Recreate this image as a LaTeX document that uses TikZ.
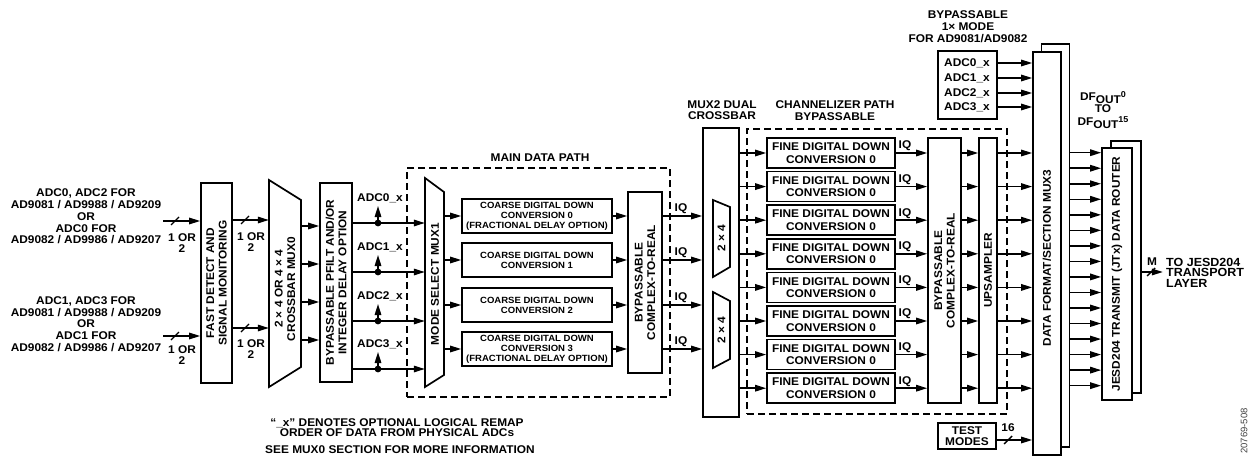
\documentclass[tikz,border=0pt]{standalone}
\usepackage{fontspec}
\setmainfont{Liberation Sans}[FakeStretch=1.06]
\newfontfamily\idfont{Liberation Sans}
\usetikzlibrary{arrows.meta,calc}
\newcommand\fA{\fontsize{11.2}{11.8}\selectfont\bfseries}
\newcommand\fB{\fontsize{9}{10}\selectfont\bfseries}
\newcommand\dfo[1]{DF\raisebox{-3pt}{OUT}\raisebox{2.5pt}{\fontsize{8.5}{8.5}\selectfont #1}}
\tikzset{
  txt/.style={font=\fA, align=center, inner sep=0pt},
  rtxt/.style={txt, rotate=90},
  box/.style={draw, line width=1.7pt, fill=white, inner sep=0pt},
  ghost/.style={inner sep=0pt},
  arr/.style={line width=1.5pt, -{Triangle[length=11pt,width=6.5pt]}},
  ln/.style={line width=1.4pt},
  dbox/.style={draw, line width=1.3pt, dash pattern=on 7pt off 4pt, inner sep=0pt},
  trap/.style={draw, line width=1.7pt, fill=white, line join=miter},
}
\begin{document}
\begin{tikzpicture}[x=1pt,y=-1pt]
\useasboundingbox (0,0) rectangle (1253,460);

% ---------- dashed regions ----------
\node[dbox, minimum width=263, minimum height=229] (mainp) at (538.5,282.5) {};
\node[txt] (mainT) at (540,158) {MAIN DATA PATH};
\node[dbox, minimum width=260, minimum height=285] (chan) at (877,271.5) {};
\node[txt, font=\fontsize{11.2}{11.5}\selectfont\bfseries] (chanT) at (835,110.5) {CHANNELIZER PATH\\BYPASSABLE};

% ---------- left inputs ----------
\node[txt] (inA) at (86,216.5) {ADC0, ADC2 FOR\\AD9081 / AD9988 / AD9209\\OR\\ADC0 FOR\\AD9082 / AD9986 / AD9207};
\node[txt] (inB) at (86,324) {ADC1, ADC3 FOR\\AD9081 / AD9988 / AD9209\\OR\\ADC1 FOR\\AD9082 / AD9986 / AD9207};

\node[box, minimum width=31, minimum height=200] (fdet) at (216.5,283) {};
\node[rtxt, font=\fontsize{11.2}{12.5}\selectfont\bfseries] (fdetT) at (fdet) {FAST DETECT AND\\SIGNAL MONITORING};

\coordinate (sA) at (163,221);
\coordinate (sB) at (163,336);
\draw[arr] (sA) -- (fdet.west |- sA);
\draw[arr] (sB) -- (fdet.west |- sB);
\draw[ln] (175,221) +(-4,4) -- +(4,-4);
\draw[ln] (175,336) +(-4,4) -- +(4,-4);
\node[txt, font=\fontsize{11.2}{11}\selectfont\bfseries] (nA) at (182,243.5) {1 OR\\2};
\node[txt, font=\fontsize{11.2}{11}\selectfont\bfseries] (nB) at (182,355) {1 OR\\2};

% ---------- MUX0 ----------
\draw[trap] (269,180) -- (301,200) -- (301,367) -- (269,387) -- cycle;
\node[ghost, minimum width=32, minimum height=207] (mux0) at (285,283.5) {};
\node[rtxt, font=\fontsize{11.2}{12.5}\selectfont\bfseries] (mux0T) at (285,289) {2 × 4 OR 4 × 4\\CROSSBAR MUX0};
\draw[arr] (fdet.east |- 0,220) -- (mux0.west |- 0,220);
\draw[arr] (fdet.east |- 0,328) -- (mux0.west |- 0,328);
\draw[ln] (245,220) +(-4,4) -- +(4,-4);
\draw[ln] (245,328) +(-4,4) -- +(4,-4);
\node[txt, font=\fontsize{11.2}{11}\selectfont\bfseries] (nC) at (251,242.5) {1 OR\\2};
\node[txt, font=\fontsize{11.2}{11}\selectfont\bfseries] (nD) at (251,349) {1 OR\\2};

% ---------- PFILT ----------
\node[box, minimum width=32, minimum height=199] (pf) at (336,282.5) {};
\node[rtxt, font=\fontsize{11.2}{12.5}\selectfont\bfseries] (pfT) at (pf) {BYPASSABLE PFILT AND/OR\\INTEGER DELAY OPTION};
\foreach \y in {226,264,302,340} {
  \draw[arr] (mux0.east |- 0,\y) -- (pf.west |- 0,\y);
}

% ---------- MUX1 ----------
\draw[trap] (425,178) -- (444,192) -- (444,375) -- (425,387) -- cycle;
\node[ghost, minimum width=19, minimum height=209] (mux1) at (434.5,282.5) {};
\node[rtxt] (mux1T) at (435,284) {MODE SELECT MUX1};

\foreach \i/\y in {0/223,1/272,2/321,3/369} {
  \draw[arr] (pf.east |- 0,\y) -- (mux1.west |- 0,\y);
  \coordinate (dot\i) at (378,\y);
  \fill (dot\i) circle[radius=3.4pt];
  \draw[arr] (dot\i) -- ++(0,-17);
  \node[txt] (adcl\i) at (380,\y-25) {ADC\i\_x};
}

% ---------- coarse DDCs ----------
\node[box, minimum width=150, minimum height=34, font=\fB, align=center] (cd0) at (537,216) {COARSE DIGITAL DOWN\\CONVERSION 0\\(FRACTIONAL DELAY OPTION)};
\node[box, minimum width=150, minimum height=34, font=\fB, align=center] (cd1) at (537,260) {COARSE DIGITAL DOWN\\CONVERSION 1};
\node[box, minimum width=150, minimum height=34, font=\fB, align=center] (cd2) at (537,305) {COARSE DIGITAL DOWN\\CONVERSION 2};
\node[box, minimum width=150, minimum height=34, font=\fB, align=center] (cd3) at (537,349) {COARSE DIGITAL DOWN\\CONVERSION 3\\(FRACTIONAL DELAY OPTION)};

\node[box, minimum width=34, minimum height=181] (c2r) at (645,282.5) {};
\node[rtxt, font=\fontsize{11.2}{12.5}\selectfont\bfseries] (c2rT) at (c2r) {BYPASSABLE\\COMPLEX-TO-REAL};

% ---------- MUX2 ----------
\node[box, minimum width=36, minimum height=289] (mux2) at (721,272.5) {};
\node[txt, font=\fontsize{11.2}{11}\selectfont\bfseries] (mux2T) at (722,110.5) {MUX2 DUAL\\CROSSBAR};
\draw[trap] (713,200) -- (730,207) -- (730,267) -- (713,277) -- cycle;
\node[rtxt] (x24a) at (721.5,238.5) {2 × 4};
\draw[trap] (713,292) -- (730,301) -- (730,359) -- (713,368) -- cycle;
\node[rtxt] (x24b) at (721.5,330) {2 × 4};

\foreach \i/\y in {0/216,1/260,2/305,3/349} {
  \draw[arr] (mux1.east |- cd\i) -- (cd\i.west);
  \draw[arr] (cd\i.east) -- (c2r.west |- cd\i);
  \draw[arr] (c2r.east |- cd\i) -- (mux2.west |- cd\i);
  \node[txt] (iqa\i) at (681,\y-7.5) {IQ};
}

% ---------- channelizer ----------
\node[box, minimum width=33, minimum height=265] (c2rb) at (944.5,270.5) {};
\node[rtxt, font=\fontsize{11.2}{12.5}\selectfont\bfseries] (c2rbT) at (c2rb) {BYPASSABLE\\COMPLEX-TO-REAL};
\node[box, minimum width=18, minimum height=265] (ups) at (988,270.5) {};
\node[rtxt] (upsT) at (ups) {UPSAMPLER};

% ---------- MUX3 ----------
\node[box, minimum width=28, minimum height=403] (mux3b) at (1055.5,245.5) {};
\node[box, minimum width=28, minimum height=403] (mux3) at (1047,253.5) {};
\node[rtxt] (mux3T) at (1047,258) {DATA FORMAT/SECTION MUX3};

\foreach \i in {0,...,7} {
  \pgfmathsetmacro\yy{153+33.6*\i}
  \node[box, minimum width=128, minimum height=30, font=\fontsize{11.2}{12.3}\selectfont\bfseries, align=center] (fdd\i) at (831,\yy) {FINE DIGITAL DOWN\\CONVERSION 0};
  \draw[arr] (mux2.east |- fdd\i) -- (fdd\i.west);
  \draw[arr] (fdd\i.east) -- (c2rb.west |- fdd\i);
  \node[txt] (iqb\i) at (905,\yy-7) {IQ};
  \draw[arr] (c2rb.east |- fdd\i) -- (ups.west |- fdd\i);
  \draw[arr] (ups.east |- fdd\i) -- (mux3.west |- fdd\i);
}

% ---------- bypass 1x mode ----------
\node[txt, font=\fontsize{11.2}{12}\selectfont\bfseries] (byT) at (968,27) {BYPASSABLE\\1× MODE\\FOR AD9081/AD9082};
\node[box, minimum width=59, minimum height=68] (adcb) at (967.5,85) {};
\foreach \i/\y in {0/63,1/78,2/93,3/107} {
  \node[txt, anchor=west] (bx\i) at (944,\y) {ADC\i\_x};
  \draw[arr] (adcb.east |- 0,\y) -- (mux3.west |- 0,\y);
}

% ---------- test modes ----------
\node[box, minimum width=58, minimum height=26, font=\fontsize{11.2}{11}\selectfont\bfseries, align=center] (test) at (967,436) {TEST\\MODES};
\draw[arr] (test.east |- 0,440) -- (mux3.west |- 0,440);
\draw[ln] (1008,440) +(-4,4) -- +(4,-4);
\node[txt] (n16) at (1008,428) {16};

% ---------- JESD ----------
\node[box, minimum width=30, minimum height=252] (jesdb) at (1126,267) {};
\node[box, minimum width=30, minimum height=252] (jesd) at (1117,274) {};
\node[rtxt] (jesdT) at (jesd) {JESD204 TRANSMIT (JTx) DATA ROUTER};
\foreach \i in {0,...,15} {
  \pgfmathsetmacro\yy{152.7+15.53*\i}
  \draw[arr] (mux3b.east |- 0,\yy) -- (jesd.west |- 0,\yy);
}
\node[txt, font=\fontsize{11.2}{12.5}\selectfont\bfseries] (dfT) at (1103,110) {\dfo{0}\\TO\\\dfo{15}};

\draw[arr] (jesdb.east |- 0,272) -- ++(21,0) coordinate (mout);
\draw[ln] (1151,272) +(-4,4) -- +(4,-4);
\node[txt] (mT) at (1152,261.5) {M};
\node[txt, anchor=west, align=left, font=\fontsize{11.8}{10.5}\selectfont\bfseries] (outT) at (1166,272.5) {TO JESD204\\TRANSPORT\\LAYER};

% ---------- notes ----------
\node[txt, font=\fontsize{11.2}{8.6}\selectfont\bfseries] (note1) at (397,428) {“\_x” DENOTES OPTIONAL LOGICAL REMAP\\ORDER OF DATA FROM PHYSICAL ADCs};
\node[txt] (note2) at (400,449.5) {SEE MUX0 SECTION FOR MORE INFORMATION};

\node[font=\idfont\fontsize{9.5}{9.5}\selectfont, rotate=90, text=black!75, inner sep=0pt] (fid) at (1244,431) {20769-508};
\end{tikzpicture}
\end{document}
